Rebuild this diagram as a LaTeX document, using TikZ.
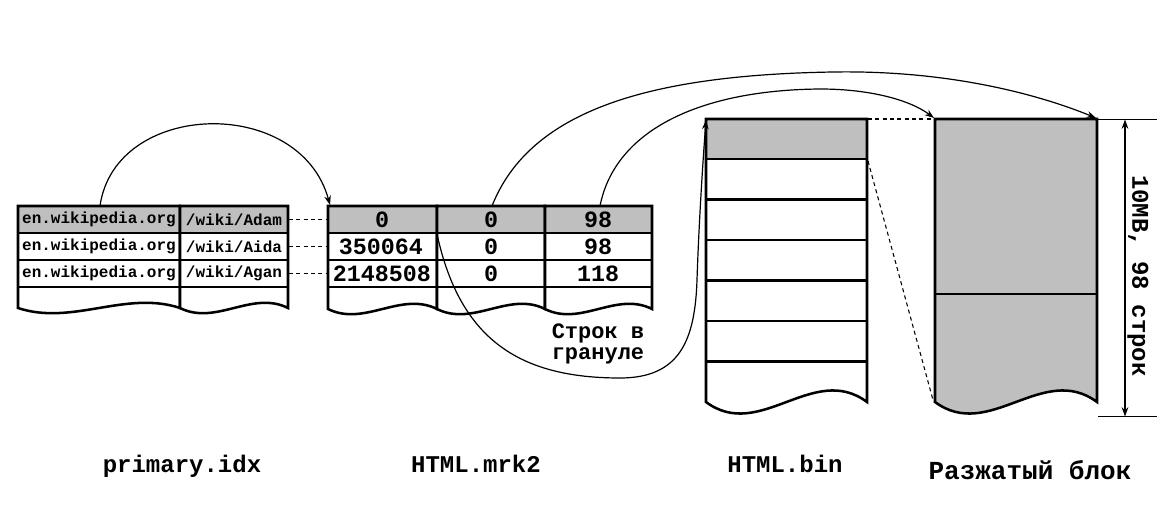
\documentclass[tikz,border=0pt]{standalone}
\usepackage{fontspec}
\setmonofont{Liberation Mono}
\usetikzlibrary{arrows.meta}
\definecolor{cellgray}{RGB}{191,191,191}
\newcommand\docshape[6]{% style, L, R, T, B, c
  \pgfmathsetmacro\dsXa{#2+(#3-#2)/3}%
  \pgfmathsetmacro\dsXb{#2+2*(#3-#2)/3}%
  \pgfmathsetmacro\dsYd{#5+#6}%
  \pgfmathsetmacro\dsYu{#5-#6}%
  \path[#1] (#2,#4) -- (#2,#5) .. controls (\dsXa,\dsYd) and (\dsXb,\dsYu) .. (#3,#5) -- (#3,#4) -- cycle;
}
\tikzset{
  box/.style={line width=1.9pt, line join=miter},
  conn/.style={line width=0.9pt, -{Stealth[length=7pt,width=5pt]}},
  dashconn/.style={line width=0.8pt, dash pattern=on 3pt off 2.5pt},
  small/.style={font=\ttfamily\bfseries\fontsize{12}{14}\selectfont, inner sep=0pt},
  num/.style={font=\ttfamily\bfseries\fontsize{17.5}{20}\selectfont, inner sep=0pt},
  lbl/.style={font=\ttfamily\bfseries\fontsize{18}{20}\selectfont, inner sep=0pt},
}
\begin{document}
\begin{tikzpicture}[x=0.75pt,y=-0.75pt]
\useasboundingbox (0,0) rectangle (1165,517);

% ---------- primary.idx ----------
\foreach \L/\R in {18/180,180/288}{
  \docshape{fill=white}{\L}{\R}{206}{308}{18}
  \fill[cellgray] (\L,206) rectangle (\R,233);
  \draw[box] (\L,233) -- (\R,233) (\L,260) -- (\R,260) (\L,287) -- (\R,287);
  \docshape{draw,box}{\L}{\R}{206}{308}{18}
}
\node[small] (pa1) at (99,219.5) {en.wikipedia.org};
\node[small] (pa2) at (234,219.5) {/wiki/Adam};
\node[small] (pb1) at (99,246.5) {en.wikipedia.org};
\node[small] (pb2) at (234,246.5) {/wiki/Aida};
\node[small] (pc1) at (99,273.5) {en.wikipedia.org};
\node[small] (pc2) at (234,273.5) {/wiki/Agan};

% ---------- HTML.mrk2 ----------
\foreach \L/\R in {328/437,437/545,545/652}{
  \docshape{fill=white}{\L}{\R}{206}{309}{18}
  \fill[cellgray] (\L,206) rectangle (\R,233);
  \draw[box] (\L,233) -- (\R,233) (\L,260) -- (\R,260) (\L,287) -- (\R,287);
  \docshape{draw,box}{\L}{\R}{206}{309}{18}
}
\node[num] (ma1) at (382,219.5) {0};
\node[num] (ma2) at (491,219.5) {0};
\node[num] (ma3) at (598,219.5) {98};
\node[num] (mb1) at (381,246.5) {350064};
\node[num] (mb2) at (491,246.5) {0};
\node[num] (mb3) at (598,246.5) {98};
\node[num] (mc1) at (382,273.5) {2148508};
\node[num] (mc2) at (491,273.5) {0};
\node[num] (mc3) at (598,273.5) {118};
\node[font=\ttfamily\bfseries\fontsize{16.5}{15.5}\selectfont, inner sep=0pt, align=left]
  (gran) at (598,344) {Строк в\\грануле};

% dashed links primary -> mrk2
\coordinate (da1) at (289,219.5); \coordinate (da2) at (327,219.5);
\coordinate (db1) at (289,246.5); \coordinate (db2) at (327,246.5);
\coordinate (dc1) at (289,273.5); \coordinate (dc2) at (327,273.5);
\draw[dashconn] (da1) -- (da2);
\draw[dashconn] (db1) -- (db2);
\draw[dashconn] (dc1) -- (dc2);

% ---------- HTML.bin ----------
\docshape{fill=white}{706}{867}{119}{402}{40}
\fill[cellgray] (706,119) rectangle (867,159);
\draw[box] (706,159) -- (867,159) (706,199.5) -- (867,199.5) (706,240) -- (867,240)
  (706,280.5) -- (867,280.5) (706,321) -- (867,321) (706,361.5) -- (867,361.5);
\docshape{draw,box}{706}{867}{119}{402}{40}

% ---------- compressed block ----------
\docshape{fill=cellgray,draw,box}{935}{1097}{119}{402}{40}
\draw[box] (935,294) -- (1097,294);

% dashed bin -> block
\coordinate (binTR) at (868,119); \coordinate (blkTL) at (934,119);
\coordinate (binR2) at (868,161); \coordinate (blkBL) at (933,400);
\draw[dashconn] (binTR) -- (blkTL);
\draw[dashconn] (binR2) -- (blkBL);

% dimension
\coordinate (dimT) at (1125,119.5); \coordinate (dimB) at (1125,416.5);
\coordinate (extT1) at (1097,119.5); \coordinate (extT2) at (1157,119.5);
\coordinate (extB1) at (1098,416.5); \coordinate (extB2) at (1157,416.5);
\draw[line width=0.8pt] (extT1) -- (extT2);
\draw[line width=0.8pt] (extB1) -- (extB2);
\draw[line width=0.9pt, {Stealth[length=7pt,width=5pt]}-{Stealth[length=7pt,width=5pt]}] (dimT) -- (dimB);
\node[lbl, rotate=-90] (dimlbl) at (1138,276) {10MB, 98 строк};

% ---------- curved connectors ----------
\coordinate (c1s) at (100,206); \coordinate (c1e) at (330,205);
\draw[conn] (c1s) .. controls (115,100) and (300,95) .. (c1e);

\coordinate (c2s) at (492,206); \coordinate (c2m) at (833,72); \coordinate (c2e) at (1096,118);
\draw[conn] (c2s) .. controls (530,110) and (650,75) .. (c2m)
  .. controls (950,70) and (1040,95) .. (c2e);

\coordinate (c3s) at (600,206); \coordinate (c3m) at (820,89); \coordinate (c3e) at (934,118);
\draw[conn] (c3s) .. controls (615,130) and (700,90) .. (c3m)
  .. controls (870,89) and (910,100) .. (c3e);

\coordinate (c4s) at (437,234); \coordinate (c4a) at (620,378); \coordinate (c4b) at (697,280);
\coordinate (c4e) at (706,120);
\draw[conn] (c4s) .. controls (460,340) and (520,378) .. (c4a)
  .. controls (680,378) and (695,340) .. (c4b)
  .. controls (699,220) and (703,160) .. (c4e);

% ---------- captions ----------
\node[lbl] (cap1) at (182,466) {primary.idx};
\node[lbl] (cap2) at (476,464) {HTML.mrk2};
\node[lbl] (cap3) at (785,464) {HTML.bin};
\node[lbl, font=\ttfamily\bfseries\fontsize{19.5}{22}\selectfont] (cap4) at (1030,470) {Разжатый блок};
\end{tikzpicture}
\end{document}
